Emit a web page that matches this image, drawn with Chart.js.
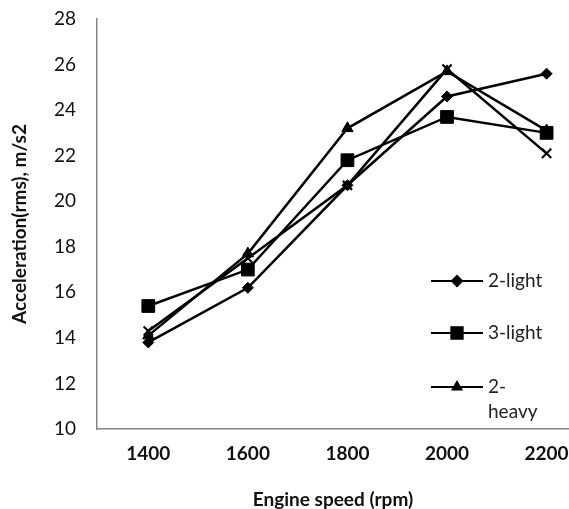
<!DOCTYPE html>
<html>
<head>
<meta charset="utf-8">
<script src="https://cdn.jsdelivr.net/npm/chart.js@4/dist/chart.umd.min.js"></script>
<style>
  html, body { margin: 0; padding: 0; background: #fff; overflow: hidden; }
</style>
</head>
<body>
<canvas id="speedChart" width="569" height="509"></canvas>
<script>
// engine speeds (rpm) and rms acceleration per load case
const engineSpeeds = [1400, 1600, 1800, 2000, 2200];
const light2 = [13.8, 16.2, 20.7, 24.6, 25.6];
const light3 = [15.4, 17.0, 21.8, 23.7, 23.0];
const heavy2 = [14.1, 17.7, 23.2, 25.7, 23.1];
const heavy3 = [14.3, 17.5, 20.7, 25.8, 22.1];
const seriesNames = ['2-light', '3-light', '2-heavy', '3-heavy'];
const legendText = [['2-light'], ['3-light'], ['2-', 'heavy']];
const yTicks = [10, 12, 14, 16, 18, 20, 22, 24, 26, 28];

const FONT = 'Lato, "Open Sans", sans-serif';

const toPoints = vals => vals.map((v, i) => ({ x: engineSpeeds[i], y: v }));

const series = [
  { values: light2, style: 'rectRot', radius: 5.5 },
  { values: light3, style: 'rect', radius: 9 },
  { values: heavy2, style: 'triangle', radius: 6.5 },
  { values: heavy3, style: 'crossRot', radius: 6.5 }
];

const datasets = series.map((s, i) => ({
  label: seriesNames[i],
  data: toPoints(s.values),
  borderColor: '#000',
  backgroundColor: '#000',
  borderWidth: 2.5,
  pointStyle: s.style,
  pointRadius: s.radius,
  pointBorderWidth: s.style === 'crossRot' ? 2.2 : 1,
  pointBorderColor: '#000',
  pointBackgroundColor: '#000',
  tension: 0,
  clip: false
}));

/*
  legend drawn inside the plot, lower right, with wrapped text
*/
const boxLegend = {
  id: 'boxLegend',
  afterDraw(chart) {
    const ctx = chart.ctx;
    const area = chart.chartArea;
    const x0 = area.left + 334;
    const lineLen = 52;
    const rowY = [area.top + 262, area.top + 314, area.top + 368];
    ctx.save();
    legendText.forEach((lines, i) => {
      const ds = chart.data.datasets[i];
      const y = rowY[i];
      ctx.strokeStyle = '#000';
      ctx.lineWidth = 2;
      ctx.beginPath();
      ctx.moveTo(x0, y);
      ctx.lineTo(x0 + lineLen, y);
      ctx.stroke();
      ctx.fillStyle = '#000';
      Chart.helpers.drawPoint(ctx, {
        pointStyle: ds.pointStyle,
        radius: ds.pointStyle === 'rect' ? 8 : 5,
        borderWidth: 1
      }, x0 + lineLen / 2, y);
      ctx.font = '19px ' + FONT;
      ctx.fillStyle = '#222';
      ctx.textBaseline = 'middle';
      ctx.textAlign = 'left';
      lines.forEach((t, j) => ctx.fillText(t, x0 + lineLen + 5, y + j * 25));
    });
    ctx.restore();
  }
};

new Chart(document.getElementById('speedChart'), {
  type: 'line',
  data: { datasets: datasets },
  options: {
    responsive: false,
    animation: false,
    layout: { autoPadding: false, padding: { top: 19, right: 0, left: 10, bottom: 0 } },
    plugins: {
      legend: { display: false },
      tooltip: { enabled: false }
    },
    scales: {
      x: {
        type: 'linear',
        min: 1297,
        max: 2245,
        afterBuildTicks: axis => {
          axis.ticks = engineSpeeds.map(v => ({ value: v }));
        },
        afterFit: axis => {
          axis.height = 80;
          axis.paddingLeft = 0;
          axis.paddingRight = 0;
        },
        border: { color: '#868686', width: 1.5 },
        grid: { display: false, drawTicks: true, tickLength: 6, tickColor: '#868686', drawOnChartArea: false },
        ticks: {
          color: '#111',
          font: { family: FONT, size: 19, weight: 'bold' },
          padding: 7,
          maxRotation: 0,
          callback: v => String(v)
        },
        title: {
          display: true,
          text: 'Engine speed (rpm)',
          color: '#111',
          font: { family: FONT, size: 19, weight: 'bold', lineHeight: 1 },
          padding: { top: 0, bottom: 0 }
        }
      },
      y: {
        min: 10,
        max: 28,
        afterBuildTicks: axis => {
          axis.ticks = yTicks.map(v => ({ value: v }));
        },
        afterFit: axis => {
          axis.width = 87;
          axis.paddingTop = 0;
          axis.paddingBottom = 0;
        },
        border: { color: '#868686', width: 1.5 },
        grid: { display: false, drawTicks: true, tickLength: 6, tickColor: '#868686', drawOnChartArea: false },
        ticks: { color: '#111', font: { family: FONT, size: 19 }, padding: 15, callback: v => String(v) },
        title: {
          display: true,
          text: 'Acceleration(rms), m/s2',
          color: '#111',
          font: { family: FONT, size: 19, weight: 'bold', lineHeight: 1 },
          padding: { top: 0, bottom: 0 }
        }
      }
    }
  },
  plugins: [boxLegend]
});
</script>
</body>
</html>
